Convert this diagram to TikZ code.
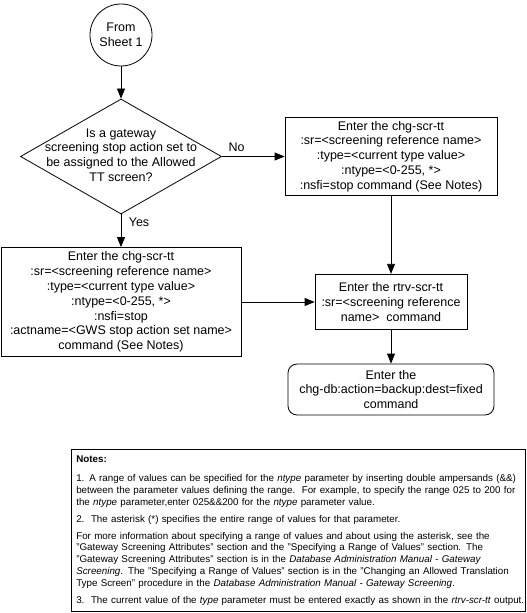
\documentclass[tikz,border=0pt]{standalone}
\usepackage{fontspec}
\setmainfont{Liberation Sans}
\usetikzlibrary{shapes.geometric,arrows.meta}
\begin{document}
\begin{tikzpicture}[x=1pt,y=-1pt,
  every node/.style={font=\fontsize{12.5}{14.8}\selectfont, inner sep=0pt},
  shapebox/.style={draw, line width=0.8pt, align=center},
  arr/.style={-{Triangle[length=10pt,width=8pt]}, line width=0.8pt},
  notefont/.style={font=\fontsize{9.8}{11.8}\selectfont}
]
\useasboundingbox (0,0) rectangle (527,613);

\node[shapebox, circle, minimum size=62pt] (start) at (121,35) {From\\Sheet 1};

\node[shapebox, diamond, minimum width=201pt, minimum height=115pt] (dec) at (121,156.5) {};
\node[align=center] (dectext) at (121,155) {Is a gateway\\screening stop action set to\\be assigned to the Allowed\\TT screen?};

\node[shapebox, minimum width=212pt, minimum height=78.5pt] (r1) at (391,156.5)
  {Enter the chg-scr-tt\\:sr=<screening reference name>\\:type=<current type value>\\:ntype=<0-255, *>\\:nsfi=stop command (See Notes)};

\node[shapebox, minimum width=240pt, minimum height=109pt] (l1) at (121,302)
  {Enter the chg-scr-tt\\:sr=<screening reference name>\\:type=<current type value>\\:ntype=<0-255, *>\\:nsfi=stop\\:actname=<GWS stop action set name>\\command (See Notes)};

\node[shapebox, minimum width=152pt, minimum height=55.5pt] (m1) at (391,302)
  {Enter the rtrv-scr-tt\\:sr=<screening reference\\name>\ \ command};

\node[shapebox, rounded corners=9pt, minimum width=206pt, minimum height=51pt] (db) at (391,389.5)
  {Enter the\\chg-db:action=backup:dest=fixed\\command};

\node (nolbl) at (236.5,147) {No};
\node (yeslbl) at (139,222) {Yes};

\draw[arr] (start) -- (dec);
\draw[arr] (dec.east) -- (r1.west);
\draw[arr] (dec.south) -- (l1.north);
\draw[arr] (r1) -- (m1);
\draw[arr] (l1) -- (m1);
\draw[arr] (m1) -- (db);

\node[draw, line width=0.8pt, notefont, minimum width=453.4pt, minimum height=162.5pt, text width=444pt, align=left] (notes) at (298.3,530.5)
{\textbf{Notes:}\\[7.2pt]
\mbox{1. A range of values can be specified for the \emph{ntype} parameter by inserting double ampersands (\&\&)}\\
\mbox{between the parameter values defining the range.\ \ For example, to specify the range 025 to 200 for}\\
\mbox{the \emph{ntype} parameter,enter 025\&\&200 for the \emph{ntype} parameter value.}\\[5.2pt]
\mbox{2.\ \ The asterisk (*) specifies the entire range of values for that parameter.}\\[5.2pt]
\mbox{For more information about specifying a range of values and about using the asterisk, see the}\\
\mbox{"Gateway Screening Attributes" section and the "Specifying a Range of Values" section. The}\\
\mbox{"Gateway Screening Attributes" section is in the \emph{Database Administration Manual - Gateway}}\\
\mbox{\emph{Screening}. The "Specifying a Range of Values" section is in the "Changing an Allowed Translation}\\
\mbox{Type Screen" procedure in the \emph{Database Administration Manual - Gateway Screening}.}\\[5.2pt]
\mbox{3.\ \ The current value of the \emph{type} parameter must be entered exactly as shown in the \emph{rtrv-scr-tt} output.}};
\end{tikzpicture}
\end{document}
